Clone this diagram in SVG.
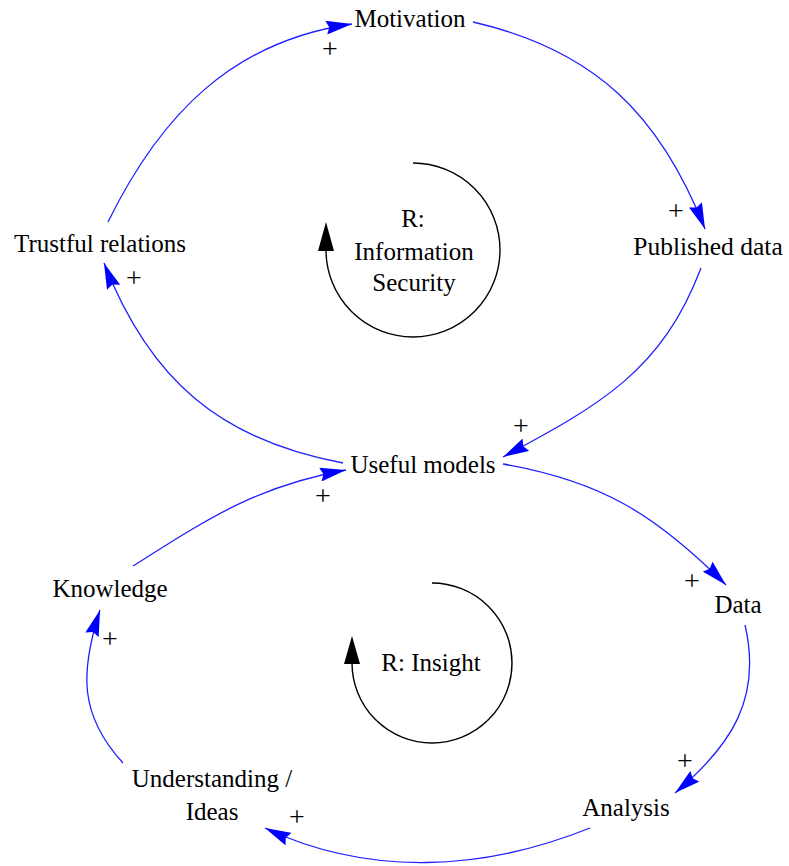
<svg xmlns="http://www.w3.org/2000/svg" width="789" height="866" viewBox="0 0 789 866">
  <style>
    .lbl { font-family: "Liberation Serif", "Times New Roman", serif; font-size: 25px; fill: #000; text-anchor: middle; }
    .sign { font-family: "Liberation Serif", "Times New Roman", serif; font-size: 28px; fill: #000; text-anchor: middle; }
    .link { fill: none; stroke: #2020ff; stroke-width: 1.3; marker-end: url(#head); }
    .loop { fill: none; stroke: #000; stroke-width: 1.4; }
    .loophead { fill: #000; }
  </style>
  <defs>
    <marker id="head" markerUnits="userSpaceOnUse" viewBox="0 0 26 14" markerWidth="26" markerHeight="14" refX="26" refY="7" orient="auto">
      <path d="M0,0 L26,7 L0,14 L3,7 Z" fill="#0000ff"/>
    </marker>
  </defs>
  <rect width="789" height="866" fill="#fff"/>

  <!-- causal links -->
  <g id="connectors">
    <path class="link" d="M108,222 C161,114 233,41 352,24"/>
    <path class="link" d="M473,22 C595,50 660,115 705,229"/>
    <path class="link" d="M701,268 C662,371 600,405 503,457"/>
    <path class="link" d="M343,463 C220,440 150,380 104,263"/>
    <path class="link" d="M133,566 C209,518 257,486 346,470"/>
    <path class="link" d="M503,464 C601,481 655,514 726,585"/>
    <path class="link" d="M745,625 C762,698 732,745 675,793"/>
    <path class="link" d="M590,828 C483,871 369,877 265,828"/>
    <path class="link" d="M123,763 C79,715 80,672 100,610"/>
  </g>

  <!-- polarity signs -->
  <g id="signs">
    <text class="sign" x="330" y="58">+</text>
    <text class="sign" x="676" y="220">+</text>
    <text class="sign" x="134" y="287">+</text>
    <text class="sign" x="521" y="435">+</text>
    <text class="sign" x="323" y="505">+</text>
    <text class="sign" x="692" y="590">+</text>
    <text class="sign" x="110" y="648">+</text>
    <text class="sign" x="685" y="770">+</text>
    <text class="sign" x="297" y="826">+</text>
  </g>

  <!-- variables -->
  <g id="motivation"><text class="lbl" x="410" y="27">Motivation</text></g>
  <g id="published-data"><text class="lbl" x="708" y="255" style="font-size:25.5px">Published data</text></g>
  <g id="trustful-relations"><text class="lbl" x="100" y="252">Trustful relations</text></g>
  <g id="useful-models"><text class="lbl" x="423" y="473">Useful models</text></g>
  <g id="data"><text class="lbl" x="738" y="613">Data</text></g>
  <g id="knowledge"><text class="lbl" x="110" y="597">Knowledge</text></g>
  <g id="analysis"><text class="lbl" x="626" y="816">Analysis</text></g>
  <g id="understanding-ideas">
    <text class="lbl" x="212" y="787">Understanding /</text>
    <text class="lbl" x="212" y="820">Ideas</text>
  </g>

  <!-- reinforcing loop markers -->
  <g id="loop-information-security">
    <path class="loop" d="M413,163 A87,87 0 1 1 326,250"/>
    <path class="loophead" d="M326,222 L334,251 L318,251 Z"/>
    <text class="lbl" x="413" y="227">R:</text>
    <text class="lbl" x="414" y="260">Information</text>
    <text class="lbl" x="414" y="291">Security</text>
  </g>
  <g id="loop-insight">
    <path class="loop" d="M432,583 A80,80 0 1 1 352,663"/>
    <path class="loophead" d="M352,636 L360,664 L344,664 Z"/>
    <text class="lbl" x="431" y="671">R: Insight</text>
  </g>
</svg>
